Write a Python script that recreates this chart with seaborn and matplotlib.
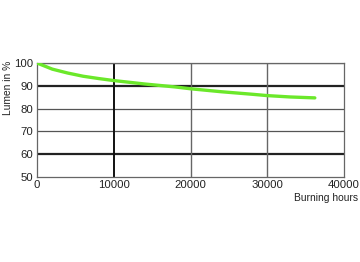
import matplotlib
matplotlib.use("Agg")
import matplotlib.pyplot as plt
import seaborn as sns
import pandas as pd

hours = [0, 2000, 4000, 6000, 8000, 10000, 14000, 18000, 20000, 24000, 28000, 30000, 33000, 36200]
lumen = [100, 97.3, 95.6, 94.2, 93.2, 92.3, 90.8, 89.5, 88.7, 87.4, 86.3, 85.7, 85.1, 84.7]
xticks = [0, 10000, 20000, 30000, 40000]
yticks = [50, 60, 70, 80, 90, 100]

sns.set_theme(style="white")
plt.rcParams['font.family'] = ['Liberation Sans', 'DejaVu Sans']

fig = plt.figure(figsize=(3.6, 2.62), dpi=100)
ax = fig.add_axes([37/360, 1-177/262, (344-37)/360, (177-63)/262])

df = pd.DataFrame({"h": hours, "l": lumen})

# grid lines
for y in [70, 80, 100]:
    ax.axhline(y, color="#555555", lw=0.9, zorder=1)
for y in [60, 90]:
    ax.axhline(y, color="#222222", lw=1.6, zorder=1)
for x in [20000, 30000]:
    ax.axvline(x, color="#666666", lw=1.0, zorder=1)
ax.axvline(10000, color="#111111", lw=1.4, zorder=1)

sns.lineplot(data=df, x="h", y="l", ax=ax, color="#6be82a", lw=2.4, zorder=3)

ax.set_xlim(0, 40000)
ax.set_ylim(50, 100)
ax.set_xticks(xticks)
ax.set_yticks(yticks)
ax.tick_params(axis="both", labelsize=8.2, length=0, colors="#222222")
ax.tick_params(axis="y", pad=3)
ax.tick_params(axis="x", pad=2.5)
for s in ax.spines.values():
    s.set_color("#666666")
    s.set_linewidth(0.9)
ax.set_xlabel("")
ax.set_ylabel("")
fig.text(8/360, 1-88/262, "Lumen in %", fontsize=7.4, color="#222222", rotation=90, ha="center", va="center")
fig.text(358/360, 1-198/262, "Burning hours", fontsize=7.4, color="#222222", ha="right", va="center")

fig.savefig("out.png", dpi=100)
